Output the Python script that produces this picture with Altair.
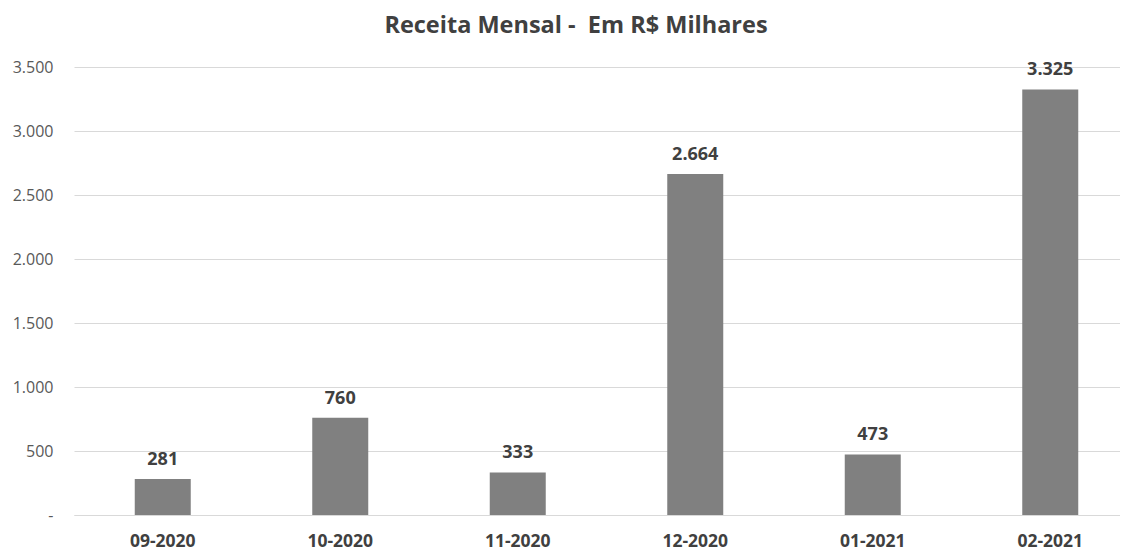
import altair as alt
import pandas as pd

months = ["09-2020", "10-2020", "11-2020", "12-2020", "01-2021", "02-2021"]
values = [281, 760, 333, 2664, 473, 3325]
y_ticks = [0, 500, 1000, 1500, 2000, 2500, 3000, 3500]
labels = [f"{v:,}".replace(",", ".") for v in values]

df = pd.DataFrame({"mes": months, "valor": values, "rotulo": labels})

FONT = "Open Sans"

x = alt.X(
    "mes:N",
    sort=months,
    scale=alt.Scale(range=[0, 1065], paddingInner=0, paddingOuter=0),
    axis=alt.Axis(
        title=None, labelAngle=0, labelFont=FONT, labelFontSize=17.5,
        labelFontWeight="bold", labelColor="#404040", ticks=False, tickSize=0,
        domainColor="#d9d9d9", labelPadding=17,
    ),
)
y = alt.Y(
    "valor:Q",
    scale=alt.Scale(domain=[0, 3500], nice=False),
    axis=alt.Axis(
        title=None, values=y_ticks,
        labelExpr="datum.value == 0 ? '-' : replace(format(datum.value, ','), ',', '.')",
        grid=True, gridColor="#d9d9d9", domain=False, ticks=False, tickSize=0,
        labelFont=FONT, labelFontSize=16, labelColor="#595959", labelPadding=21,
    ),
)

base = alt.Chart(df).encode(x=x, y=y)
bars = base.mark_bar(size=56, color="#808080")
text = base.mark_text(
    dy=-10, baseline="bottom", font=FONT, fontSize=18, fontWeight="bold", color="#404040"
).encode(text="rotulo:N")

chart = (
    alt.layer(bars, text)
    .properties(
        width=1046,
        height=448,
        autosize="none",
        padding={"left": 66, "top": 59, "right": 0, "bottom": 35},
        title=alt.TitleParams(
            "Receita Mensal - \u00a0Em R$ Milhares",
            font=FONT, fontSize=23.5, fontWeight="bold", color="#404040",
            anchor="middle", offset=22, dx=-21,
        ),
    )
    .configure_view(stroke=None)
)

chart.save("out.html", embed_options={"renderer": "svg", "actions": False})
